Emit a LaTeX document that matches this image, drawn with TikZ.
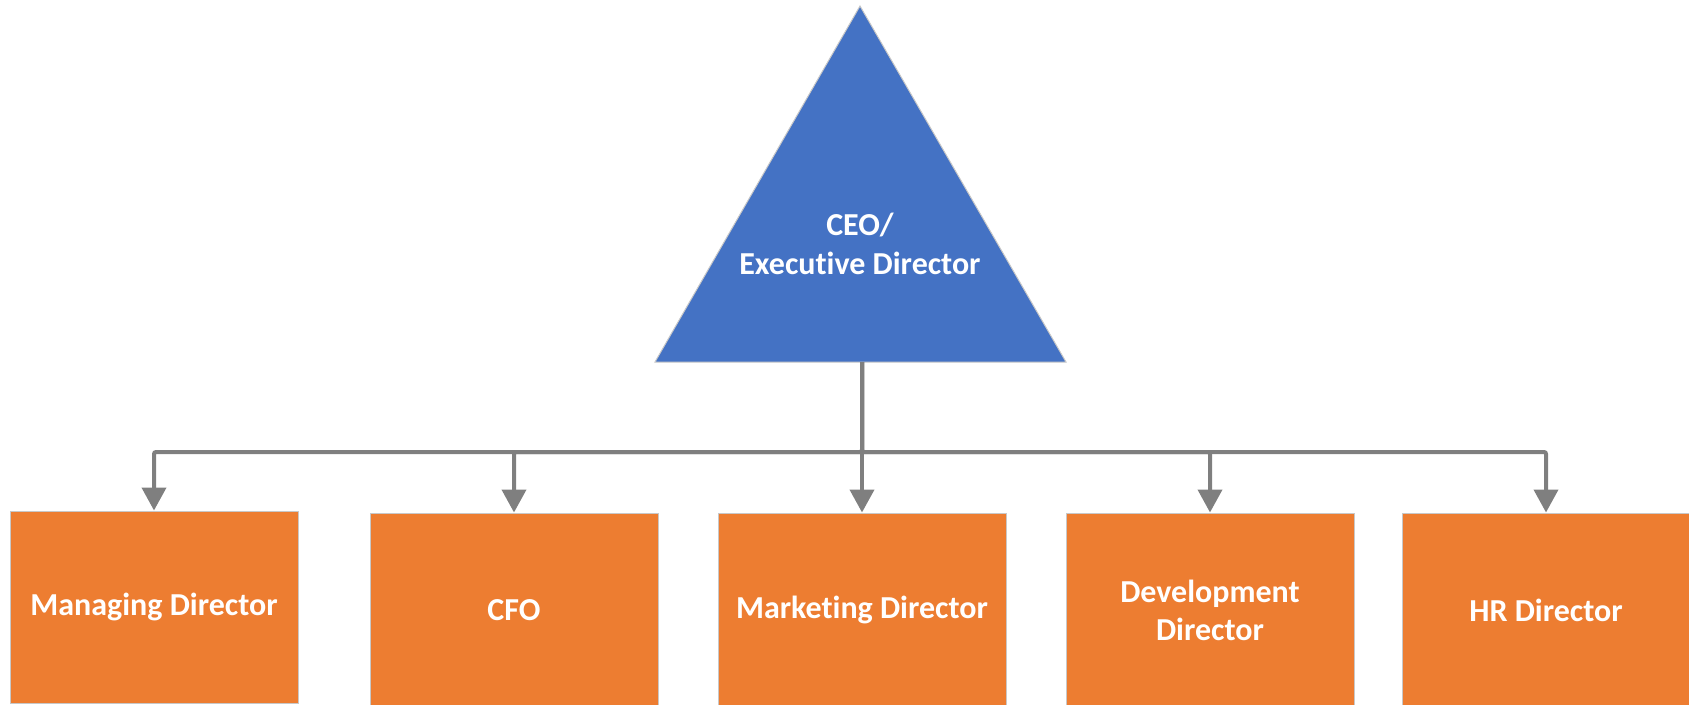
\documentclass[tikz,border=0pt]{standalone}
\usepackage{fontspec}
\setmainfont[Ligatures=NoCommon]{Carlito}
\usetikzlibrary{arrows.meta}
\definecolor{ceoblue}{HTML}{4472C4}
\definecolor{dirorange}{HTML}{ED7D31}
\definecolor{conngray}{HTML}{7F7F7F}
\definecolor{edgegray}{HTML}{C8C8C8}
\tikzset{
  dirbox/.style={draw=edgegray, line width=1pt, fill=dirorange, minimum width=288pt, minimum height=194pt,
    text=white, font=\fontsize{32}{38}\selectfont\bfseries, align=center, inner sep=0pt},
  conn/.style={draw=conngray, line width=4pt, rounded corners=2pt,
    -{Triangle[width=24pt,length=23pt]}},
}
\begin{document}
\begin{tikzpicture}[x=1pt,y=-1pt]
\useasboundingbox (0,0) rectangle (1689,704);
% CEO triangle
\path[fill=ceoblue, draw=edgegray, line width=1pt] (860,6) -- (1066,362) -- (655,362) -- cycle;
\node[text=white, font=\fontsize{32}{39}\selectfont\bfseries, align=center] (ceotxt) at (860,244) {CEO/\\Executive Director};
\coordinate (ceo) at (862,362);
\coordinate (bus) at (862,452);
% director boxes
\node[dirbox, minimum height=192pt] (md) at (154,607) {Managing Director};
\node[dirbox] (cfo) at (514,610) {CFO};
\node[dirbox] (mk) at (862,610) {Marketing Director};
\node[dirbox] (dd) at (1210,610) {Development\\Director};
\node[dirbox] (hr) at (1546,610) {HR Director};
% connectors
\draw[conn] (ceo) -- (bus) -| (md.north);
\draw[conn] (ceo) -- (bus) -| (cfo.north);
\draw[conn] (ceo) -- (mk.north);
\draw[conn] (ceo) -- (bus) -| (dd.north);
\draw[conn] (ceo) -- (bus) -| (hr.north);
\end{tikzpicture}
\end{document}
